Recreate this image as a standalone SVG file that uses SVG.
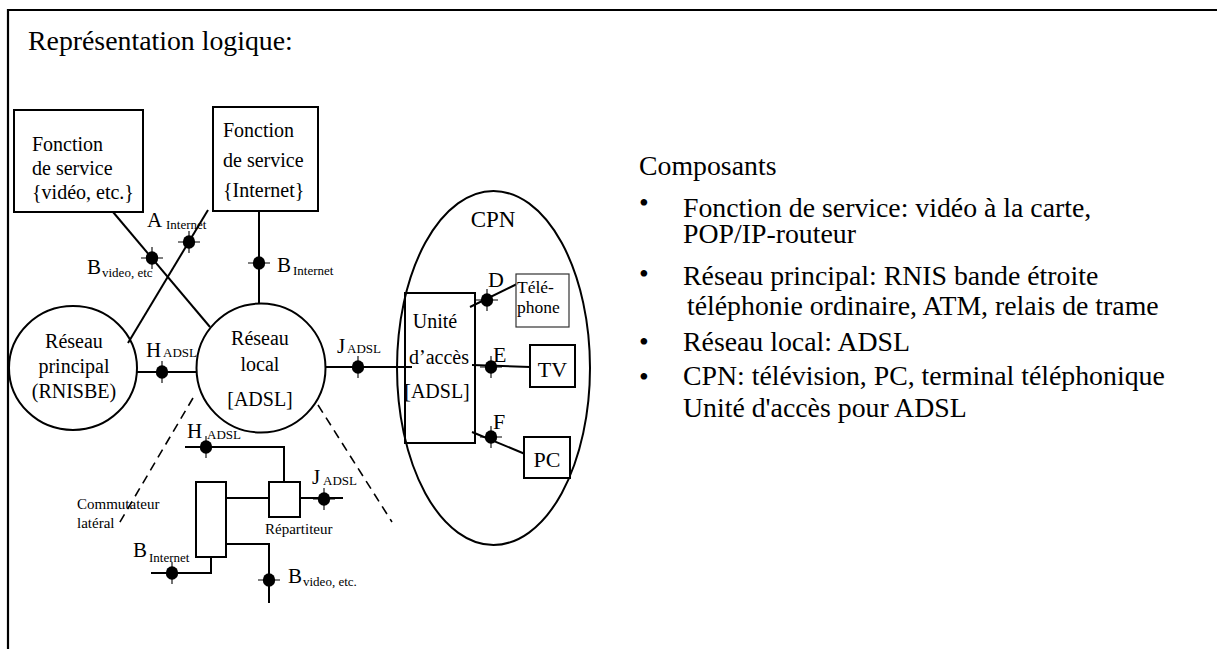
<svg xmlns="http://www.w3.org/2000/svg" xmlns:xlink="http://www.w3.org/1999/xlink" width="1217" height="649" viewBox="0 0 1217 649">
  <style>
    text { font-family: "Liberation Serif", "Times New Roman", serif; fill: #000; }
    .ln { fill: none; stroke: #000; stroke-width: 2; }
    .bx { fill: #fff; stroke: #000; stroke-width: 2; }
    .thin { fill: #fff; stroke: #333; stroke-width: 1.2; }
    .dash { fill: none; stroke: #000; stroke-width: 1.6; stroke-dasharray: 9 6; }
    .frame { fill: none; stroke: #000; stroke-width: 2.2; }
    .big { font-size: 27.8px; }
    .node { font-size: 20px; }
    .lbl { font-size: 21px; }
    .sub { font-size: 13px; }
    .small { font-size: 15px; }
    .mid { text-anchor: middle; }
  </style>
  <defs>
    <!-- interface reference point: filled dot with a thin cross -->
    <g id="ip">
      <path d="M-11 0H11M0 -11V11" stroke="#000" stroke-width="1.1"/>
      <ellipse cx="0" cy="0" rx="6.2" ry="6.8" fill="#000"/>
    </g>
  </defs>

  <rect width="1217" height="649" fill="#fff"/>
  <!-- outer frame (top and left edges) -->
  <path class="frame" d="M8 649V10H1217"/>

  <text class="big" x="28" y="50">Représentation logique:</text>

  <!-- connectors -->
  <g id="connectors">
    <line class="ln" x1="113" y1="212" x2="210" y2="327"/>
    <line class="ln" x1="128" y1="343" x2="208" y2="210"/>
    <line class="ln" x1="259" y1="211" x2="259" y2="304"/>
    <line class="ln" x1="137" y1="372" x2="197" y2="372"/>
    <line class="ln" x1="325" y1="367" x2="412" y2="367"/>
    <line class="ln" x1="470" y1="307" x2="517" y2="284"/>
    <line class="ln" x1="472" y1="365" x2="530" y2="367"/>
    <line class="ln" x1="472" y1="432" x2="525" y2="454"/>
    <line class="dash" x1="193" y1="398" x2="117" y2="527"/>
    <line class="dash" x1="318" y1="405" x2="392" y2="522"/>
    <!-- lateral switch wiring -->
    <polyline class="ln" points="185,447 284,447 284,482"/>
    <line class="ln" x1="225" y1="498" x2="269" y2="498"/>
    <line class="ln" x1="300" y1="498" x2="343" y2="498"/>
    <polyline class="ln" points="211,556 211,573 151,573"/>
    <polyline class="ln" points="225,544 269,544 269,603"/>
  </g>

  <!-- interface points -->
  <g id="points">
    <use xlink:href="#ip" x="189" y="242"/>
    <use xlink:href="#ip" x="152" y="258"/>
    <use xlink:href="#ip" x="259" y="263"/>
    <use xlink:href="#ip" x="162" y="372"/>
    <use xlink:href="#ip" x="358" y="367"/>
    <use xlink:href="#ip" x="487" y="300"/>
    <use xlink:href="#ip" x="491" y="367"/>
    <use xlink:href="#ip" x="491" y="437"/>
    <use xlink:href="#ip" x="206" y="447"/>
    <use xlink:href="#ip" x="324" y="499"/>
    <use xlink:href="#ip" x="172" y="573"/>
    <use xlink:href="#ip" x="269" y="580"/>
  </g>

  <g id="svc-video">
    <rect class="bx" x="14" y="110" width="129" height="102"/>
    <text class="node" x="32" y="151">Fonction</text>
    <text class="node" x="32" y="175">de service</text>
    <text class="node" x="32" y="199">{vidéo, etc.}</text>
  </g>

  <g id="svc-internet">
    <rect class="bx" x="213" y="107" width="105" height="104"/>
    <text class="node" x="223" y="137">Fonction</text>
    <text class="node" x="223" y="167">de service</text>
    <text class="node" x="223" y="197">{Internet}</text>
  </g>

  <g id="core-network">
    <ellipse class="ln" cx="73" cy="368" rx="64" ry="62"/>
    <text class="node mid" x="74" y="348">Réseau</text>
    <text class="node mid" x="74" y="373">principal</text>
    <text class="node mid" x="74" y="398">(RNISBE)</text>
  </g>

  <g id="local-network">
    <circle class="ln" cx="261" cy="368" r="64.5"/>
    <text class="node mid" x="260" y="345">Réseau</text>
    <text class="node mid" x="260" y="371">local</text>
    <text class="node mid" x="260" y="406">[ADSL]</text>
  </g>

  <g id="cpn">
    <ellipse class="ln" cx="493.5" cy="368" rx="96.5" ry="177"/>
    <text class="mid" x="493" y="227" font-size="23">CPN</text>
  </g>

  <g id="access-unit">
    <rect class="bx" x="405" y="293" width="70" height="150" fill="none" style="fill:none"/>
    <text class="node mid" x="435" y="328">Unité</text>
    <text class="node mid" x="439" y="364">d’accès</text>
    <text class="node mid" x="437" y="398">[ADSL]</text>
  </g>

  <g id="telephone">
    <rect class="thin" x="516" y="274" width="53" height="53"/>
    <text x="517" y="293" font-size="17.5">Télé-</text>
    <text x="517" y="313" font-size="17.5">phone</text>
  </g>

  <g id="tv">
    <rect class="bx" x="530" y="345" width="45" height="42"/>
    <text class="mid" x="552.5" y="377" font-size="22">TV</text>
  </g>

  <g id="pc">
    <rect class="bx" x="524" y="437" width="46" height="41"/>
    <text class="mid" x="547" y="467" font-size="22">PC</text>
  </g>

  <g id="lateral-switch">
    <rect class="bx" x="196" y="482" width="30" height="75"/>
    <text class="small" x="77" y="509">Commutateur</text>
    <text class="small" x="77" y="528">latéral</text>
  </g>

  <g id="splitter">
    <rect class="bx" x="269" y="482" width="31" height="35"/>
    <text class="small" x="265" y="534">Répartiteur</text>
  </g>

  <!-- reference point labels -->
  <g id="point-labels">
    <text class="lbl" x="147" y="227">A<tspan class="sub" x="166" y="229">Internet</tspan></text>
    <text class="lbl" x="87" y="274">B<tspan class="sub" x="102" y="277">video, etc</tspan></text>
    <text class="lbl" x="277" y="272">B<tspan class="sub" x="293" y="275">Internet</tspan></text>
    <text class="lbl" x="146" y="357">H<tspan class="sub" x="163" y="357">ADSL</tspan></text>
    <text class="lbl" x="337" y="353">J<tspan class="sub" x="347" y="353">ADSL</tspan></text>
    <text x="488" y="287" font-size="22">D</text>
    <text x="493" y="362" font-size="22">E</text>
    <text x="493" y="429" font-size="22">F</text>
    <text class="lbl" x="187" y="438">H<tspan class="sub" x="207" y="439">ADSL</tspan></text>
    <text class="lbl" x="312" y="484">J<tspan class="sub" x="323" y="485">ADSL</tspan></text>
    <text class="lbl" x="133" y="557">B<tspan class="sub" x="149" y="562">Internet</tspan></text>
    <text class="lbl" x="288" y="583">B<tspan class="sub" x="303" y="586">video, etc.</tspan></text>
  </g>

  <!-- component list -->
  <g id="components" class="big">
    <text x="639" y="175">Composants</text>
    <text x="639" y="211.5">•</text>
    <text x="683" y="217">Fonction de service: vidéo à la carte,</text>
    <text x="683" y="243">POP/IP-routeur</text>
    <text x="639" y="282.5">•</text>
    <text x="683" y="285">Réseau principal: RNIS bande étroite</text>
    <text x="687" y="315">téléphonie ordinaire, ATM, relais de trame</text>
    <text x="639" y="351">•</text>
    <text x="683" y="351">Réseau local: ADSL</text>
    <text x="639" y="386">•</text>
    <text x="683" y="385">CPN: télévision, PC, terminal téléphonique</text>
    <text x="683" y="417">Unité d'accès pour ADSL</text>
  </g>
</svg>
